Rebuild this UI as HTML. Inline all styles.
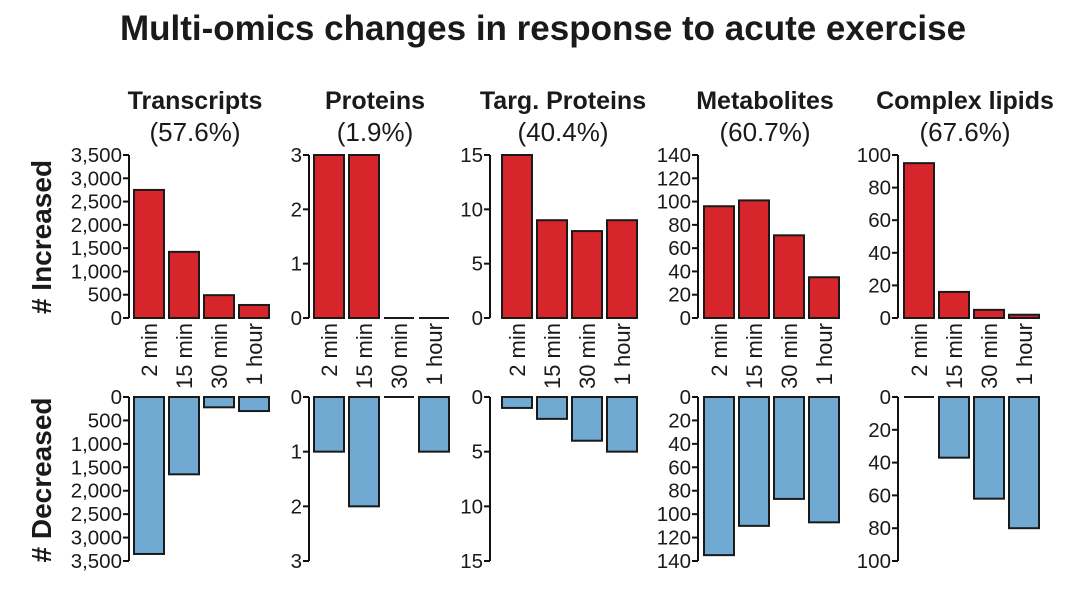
<!DOCTYPE html>
<html><head><meta charset="utf-8"><style>
body{margin:0;background:#fff;}
svg text{font-family:"Liberation Sans",Arial,sans-serif;fill:#1a1a1a;}
</style></head><body>
<svg id="chart" width="1080" height="598" xmlns="http://www.w3.org/2000/svg">
<text x="543" y="40" font-size="35" font-weight="bold" text-anchor="middle">Multi-omics changes in response to acute exercise</text>
<text transform="translate(51,237) rotate(-90)" font-size="28" font-weight="bold" text-anchor="middle"># Increased</text>
<text transform="translate(51,480) rotate(-90)" font-size="28" font-weight="bold" text-anchor="middle"># Decreased</text>
<g id="panels"></g>
</svg>
<script>
const panelNames = ["Transcripts","Proteins","Targ. Proteins","Metabolites","Complex lipids"];
const panelPercents = ["(57.6%)","(1.9%)","(40.4%)","(60.7%)","(67.6%)"];
const categories = ["2 min","15 min","30 min","1 hour"];
const increased = [[2750,1420,490,280],[3,3,0,0],[15,9,8,9],[96,101,71,35],[95,16,5,2]];
const decreased = [[3350,1650,220,300],[1,2,0,1],[1,2,4,5],[135,110,87,107],[0,37,62,80]];
const axisMax = [3500,3,15,140,100];
const tickValues = [[0,500,1000,1500,2000,2500,3000,3500],[0,1,2,3],[0,5,10,15],[0,20,40,60,80,100,120,140],[0,20,40,60,80,100]];

const NS="http://www.w3.org/2000/svg";
const g=document.getElementById('panels');
const axisX=[129,309,490,698,898];
const barOff=[5,5,12,6,6];
const topY=155, incZero=318, decZero=397, botY=561;
const step=35, bw=30;
function mk(tag,attrs,parent){const e=document.createElementNS(NS,tag);for(const k in attrs)e.setAttribute(k,attrs[k]);(parent||g).appendChild(e);return e;}
function fmt(v){return v.toLocaleString('en-US');}
panelNames.forEach((name,p)=>{
  const ax=axisX[p], max=axisMax[p];
  const yInc=v=>incZero-(v/max)*(incZero-topY);
  const yDec=v=>decZero+(v/max)*(botY-decZero);
  const cx=ax+barOff[p]+2*step-9;
  const t=mk('text',{x:cx,y:109,'font-size':25,'font-weight':'bold','text-anchor':'middle'});t.textContent=name;
  
  
  const pc=mk('text',{x:cx,y:141,'font-size':26,'text-anchor':'middle'});pc.textContent=panelPercents[p];
  
  
  const a1=mk('line',{x1:ax,x2:ax,y1:yInc(max),y2:yInc(0),stroke:'#111','stroke-width':2});
  
  
  const a2=mk('line',{x1:ax,x2:ax,y1:yDec(0),y2:yDec(max),stroke:'#111','stroke-width':2});
  
  
  tickValues[p].forEach(v=>{
    [yInc(v),yDec(v)].forEach((y,k)=>{
      mk('line',{x1:ax-6,x2:ax,y1:y,y2:y,stroke:'#111','stroke-width':2});
      const tl=mk('text',{x:ax-7,y:y+7,'font-size':20.5,'text-anchor':'end'});tl.textContent=fmt(v);
      
      
    });
  });
  categories.forEach((c,i)=>{
    const x=ax+barOff[p]+i*step;
    const vi=increased[p][i], vd=decreased[p][i];
    if(vi>0){const r=mk('rect',{x:x,y:yInc(vi),width:bw,height:yInc(0)-yInc(vi),fill:'#d7262b',stroke:'#1a1a1a','stroke-width':2});
      
      }
    else{mk('line',{x1:x,x2:x+bw,y1:incZero,y2:incZero,stroke:'#1a1a1a','stroke-width':2});}
    if(vd>0){const r=mk('rect',{x:x,y:decZero,width:bw,height:yDec(vd)-decZero,fill:'#70a9d2',stroke:'#1a1a1a','stroke-width':2});
      
      }
    else{mk('line',{x1:x,x2:x+bw,y1:decZero,y2:decZero,stroke:'#1a1a1a','stroke-width':2});}
    const cl=mk('text',{transform:`translate(${x+bw/2+8},323) rotate(-90)`,'font-size':22,'text-anchor':'end'});cl.textContent=c;
    
    
  });
});
</script>
</body></html>
